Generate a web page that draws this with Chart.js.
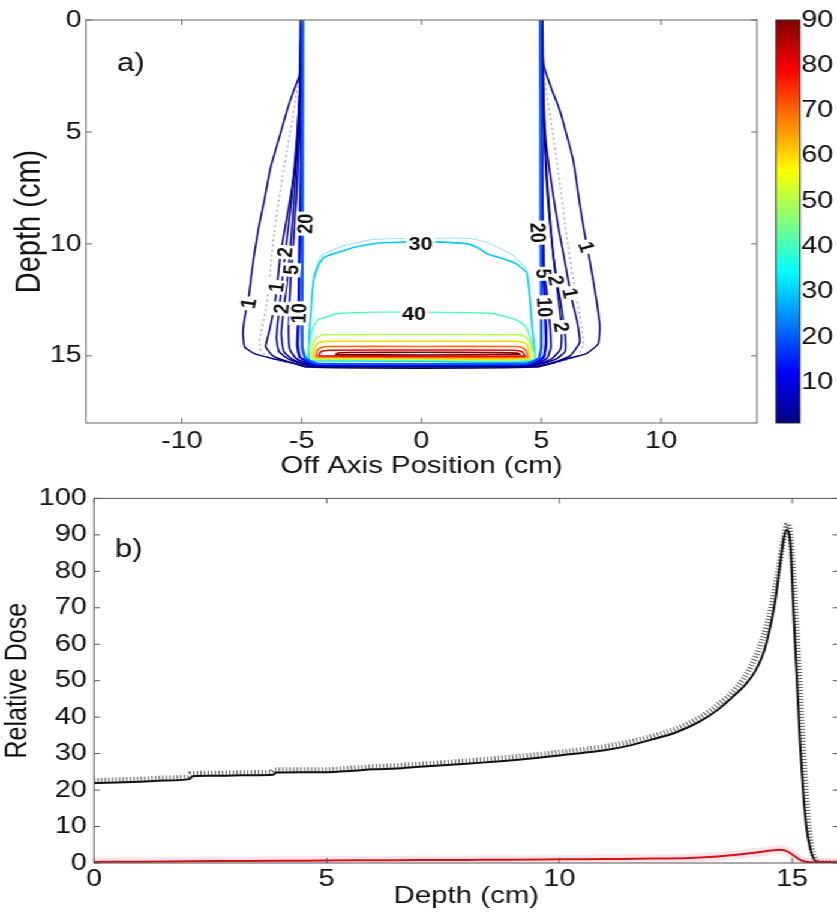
<!DOCTYPE html>
<html lang="en">
<head>
<meta charset="UTF-8" />
<title>Isodose contours and depth dose</title>
<style>
  html, body { margin: 0; padding: 0; background: #fff; overflow: hidden; }
  /* the source figure is stretched sideways, so the whole stage is too */
  #stage { position: relative; width: 705px; height: 916px; transform: scaleX(1.2); transform-origin: 0 0; }
  .box { position: absolute; }
  #boxA { left: 0; top: 0; width: 640px; height: 480px; }
  #boxC { left: 640px; top: 0; width: 60px; height: 480px; }
  #boxB { left: 0; top: 478px; width: 705px; height: 438px; }
</style>
</head>
<body>
<div id="stage">
  <div class="box" id="boxA"><canvas id="chartContour"></canvas></div>
  <div class="box" id="boxC"><canvas id="chartBar"></canvas></div>
  <div class="box" id="boxB"><canvas id="chartDepth"></canvas></div>
</div>

<script src="https://cdn.jsdelivr.net/npm/chart.js"></script>
<script>
// ---------- panel a: isodose lines, [off axis (cm), depth (cm)] ----------
const contour1a = [[-5.02,0],[-5.05,1.5],[-5.1,2.5],[-5.35,3.2],[-5.6,4.0],[-5.95,5.3],[-6.3,6.6],[-6.55,8.0],[-6.8,9.3],[-6.97,10.4],[-7.1,11.4],[-7.2,12.3],[-7.38,13.3],[-7.45,14.0],[-7.38,14.6],[-6.97,14.9],[-6.14,15.14],[-5.44,15.3],[-4.8,15.5],[0,15.55],[4.8,15.5],[5.36,15.36],[6.05,15.14],[6.88,14.9],[7.37,14.47],[7.44,13.7],[7.3,12.5],[7.02,10.74],[6.8,9.5],[6.6,8.2],[6.33,6.26],[5.77,4.03],[5.4,3.0],[5.08,1.94],[5.02,0]];
const contour1b = [[-5.05,0],[-5.08,3.0],[-5.15,4.5],[-5.23,6.1],[-5.45,7.8],[-5.73,9.5],[-5.9,10.6],[-6.0,11.6],[-6.1,12.5],[-6.25,13.4],[-6.4,14.1],[-6.5,14.6],[-6.2,15.0],[-5.5,15.28],[-4.75,15.47],[0,15.5],[4.75,15.47],[5.5,15.3],[6.2,15.0],[6.6,14.4],[6.5,13.5],[6.3,12.6],[6.15,11.8],[5.95,10.6],[5.7,9.2],[5.45,7.5],[5.2,5.5],[5.1,3.5],[5.05,0]];
const contour2a = [[-5.03,0],[-5.05,2.5],[-5.15,4.5],[-5.3,6.5],[-5.45,8.3],[-5.62,9.8],[-5.75,11.0],[-5.85,12.0],[-5.95,13.0],[-6.05,14.2],[-5.95,14.8],[-5.55,15.15],[-5.0,15.35],[-4.6,15.44],[0,15.47],[4.6,15.44],[5.1,15.33],[5.65,15.12],[6.0,14.8],[6.0,14.1],[5.9,13.3],[5.78,12.4],[5.64,11.6],[5.5,10.5],[5.35,9.0],[5.2,7.0],[5.1,4.5],[5.05,2.5],[5.03,0]];
const contour2b = [[-5.04,0],[-5.06,3.0],[-5.2,6.0],[-5.35,8.5],[-5.5,10.5],[-5.62,11.8],[-5.75,12.9],[-5.85,14.0],[-5.75,14.8],[-5.4,15.15],[-4.9,15.35],[-4.5,15.43],[0,15.45],[4.5,15.43],[4.95,15.33],[5.45,15.12],[5.8,14.7],[5.84,13.72],[5.75,12.8],[5.6,11.5],[5.45,10.0],[5.3,8.0],[5.15,5.5],[5.06,3.0],[5.04,0]];
const contour5 = [[-5.0,0],[-5.03,2],[-5.1,5],[-5.22,8],[-5.35,10],[-5.44,11.2],[-5.5,12.5],[-5.55,13.8],[-5.5,14.7],[-5.25,15.1],[-4.8,15.32],[-4.4,15.41],[0,15.43],[4.4,15.41],[4.85,15.32],[5.25,15.1],[5.4,14.6],[5.35,13.5],[5.25,12.3],[5.12,11.2],[5.06,9],[5.03,5],[5.0,0]];
const contour10 = [[-4.98,0],[-5.0,4],[-5.05,8],[-5.1,11],[-5.12,13.1],[-5.18,14.5],[-5.08,15.05],[-4.7,15.3],[-4.35,15.39],[0,15.4],[4.35,15.39],[4.75,15.3],[5.1,15.05],[5.2,14.4],[5.15,12.8],[5.08,11],[5.03,8],[5.0,4],[4.98,0]];
const contour20 = [[-4.95,0],[-4.96,5],[-4.97,10],[-4.98,14.6],[-4.85,15.1],[-4.5,15.3],[-4.2,15.36],[0,15.37],[4.2,15.36],[4.55,15.3],[4.9,15.1],[5.0,14.6],[4.98,10],[4.97,5],[4.96,0]];
const contour30 = [[-4.72,15.22],[-4.68,14.0],[-4.6,12.8],[-4.5,11.6],[-4.25,10.85],[-4.07,10.6],[-3.4,10.35],[-2.8,10.15],[-1.7,9.95],[-0.8,9.92],[0,9.9],[0.9,9.92],[1.9,10.0],[2.4,10.2],[2.73,10.44],[3.5,10.7],[3.97,10.9],[4.39,11.3],[4.53,12.5],[4.62,13.8],[4.68,15.22],[0,15.24],[-4.72,15.22]];
const contour30b = [[-4.6,12.5],[-4.45,11.2],[-4.2,10.55],[-3.3,10.1],[-2,9.8],[0,9.75],[2,9.75],[2.9,10.0],[3.8,10.5],[4.35,11.1],[4.5,12.3]];
const contour40 = [[-4.78,15.18],[-4.66,14.4],[-4.55,13.8],[-4.33,13.4],[-3.5,13.12],[-2,13.05],[0,13.05],[2,13.07],[3.0,13.12],[3.97,13.4],[4.35,13.7],[4.55,14.2],[4.7,15.18],[0,15.2],[-4.78,15.18]];
const contour50 = [[-4.62,15.14],[-4.55,14.5],[-4.4,14.2],[-4.1,14.06],[0,14.05],[4.1,14.06],[4.4,14.2],[4.55,14.5],[4.6,15.14],[0,15.16],[-4.62,15.14]];
const contour60 = [[-4.52,15.1],[-4.45,14.6],[-4.3,14.42],[-4.0,14.35],[0,14.35],[4.0,14.35],[4.3,14.42],[4.45,14.6],[4.5,15.1],[0,15.12],[-4.52,15.1]];
const contour70 = [[-4.42,15.05],[-4.35,14.75],[-4.15,14.62],[-3.9,14.58],[0,14.58],[3.9,14.58],[4.15,14.62],[4.35,14.75],[4.42,15.05],[0,15.07],[-4.42,15.05]];
const contour80 = [[-4.3,15.0],[-4.2,14.82],[-3.9,14.75],[0,14.74],[3.9,14.75],[4.2,14.82],[4.3,15.0],[0,15.02],[-4.3,15.0]];
const contour90 = [[-3.6,14.95],[-3.5,14.87],[-3.0,14.85],[0,14.84],[3.0,14.85],[4.0,14.87],[4.1,14.93],[0,14.96],[-3.6,14.95]];
const dottedEdge = [[-5.1,2.5],[-5.4,4.5],[-5.8,7.0],[-6.15,9.5],[-6.35,11.6],[-6.5,13.0],[-6.75,14.2],[-6.7,14.8],[-6.3,15.1],[-5.5,15.35],[0,15.5],[5.5,15.35],[6.5,15.0],[6.75,14.5],[6.65,13.5],[6.4,12.0],[6.1,10.0],[5.8,7.5],[5.4,4.5],[5.1,2.5]];

// contour labels
const labelText = ['1', '1', '2', '5', '2', '10', '20', '20', '5', '2', '1', '10', '2', '1', '30', '40'];
const labelX = [-7.22, -6.06, -5.7, -5.44, -5.85, -5.12, -4.85, 4.86, 5.1, 5.62, 6.2, 5.14, 5.84, 6.88, -0.04, -0.31];
const labelY = [12.66, 11.93, 10.37, 11.16, 12.9, 13.1, 9.1, 9.5, 11.33, 11.63, 12.2, 12.83, 13.72, 10.14, 10.0, 13.12];
const labelRot = [-80, -82, -85, -85, -85, -88, -88, 88, 88, 82, 78, 88, 82, 72, 0, 0];

// ---------- panel b: depth dose ----------
const depthCalc = [0,0.5,1,1.5,2.05,2.12,2.5,3,3.5,3.85,3.92,4.5,5,5.5,6,6.5,7,7.5,8,8.5,9,9.5,10,10.5,11,11.5,12,12.5,13,13.4,13.7,14,14.2,14.35,14.45,14.55,14.65,14.74,14.82,14.88,14.93,14.97,15.03,15.1,15.17,15.24,15.31,15.38,15.45,15.52,15.7,16];
const doseCalc = [21.9,22.1,22.3,22.6,23.0,23.8,23.9,24.0,24.1,24.2,24.8,24.9,24.9,25.2,25.7,25.9,26.4,26.8,27.2,27.7,28.2,28.8,29.5,30.2,31.0,32.2,33.9,35.8,38.7,42.0,45.3,49.0,52.5,56.5,60.5,66.0,73.0,82.0,89.0,91.3,90.5,86.0,69.0,51.0,33.0,19.0,9.5,4.5,1.5,0.4,0.2,0.2];
const depthMeas = [0,0.5,1,1.5,2.0,2.08,2.5,3,3.5,3.8,3.88,4.5,5,5.5,6,6.5,7,7.5,8,8.5,9,9.5,10,10.5,11,11.5,12,12.5,13,13.4,13.8,14.1,14.35,14.55,14.7,14.82,14.9,14.96,15.02,15.1,15.18,15.26,15.34,15.42,15.5,15.6,16];
const doseMeas = [22.6,22.8,23.0,23.3,23.7,24.5,24.6,24.7,24.8,24.9,25.5,25.6,25.6,26.0,26.4,26.7,27.1,27.5,28.0,28.5,29.1,29.7,30.4,31.1,32.0,33.2,34.8,36.8,39.8,43.3,48.0,53.5,61.0,70.0,80.0,89.0,93.0,90.0,80.0,63.0,44.0,26.0,12.0,4.0,1.0,0.3,0.2];
const depthLow = [0,1,2,3,4,5,6,7,8,9,10,11,12,12.8,13.4,13.9,14.3,14.55,14.72,14.85,14.95,15.05,15.15,15.25,15.4,16];
const doseLow = [0.3,0.35,0.5,0.55,0.6,0.7,0.75,0.8,0.85,0.9,1.0,1.1,1.2,1.4,1.8,2.4,3.0,3.4,3.6,3.4,2.8,1.9,1.0,0.5,0.2,0.2];

const FONT = "'Liberation Sans', Arial, Helvetica, sans-serif";
Chart.defaults.font.family = FONT;
Chart.defaults.color = '#111';

// matlab jet colormap over the colorbar range 1..90
function clamp(v) { return Math.max(0, Math.min(1, v)); }
function jet(level) {
  const t = clamp((level - 1) / 89);
  const r = clamp(Math.min(4 * t - 1.5, -4 * t + 4.5));
  const g = clamp(Math.min(4 * t - 0.5, -4 * t + 3.5));
  const b = clamp(Math.min(4 * t + 0.5, -4 * t + 2.5));
  return 'rgb(' + Math.round(r * 255) + ',' + Math.round(g * 255) + ',' + Math.round(b * 255) + ')';
}
const jetStops = [[0, '#000080'], [0.125, '#0000ff'], [0.375, '#00ffff'], [0.625, '#ffff00'], [0.875, '#ff0000'], [1, '#800000']];

function toPoints(pts) { return pts.map(p => ({ x: p[0], y: p[1] })); }
function zip(xs, ys) { return xs.map((x, i) => ({ x: x, y: ys[i] })); }

function lineSet(pts, color, width, dash) {
  return {
    data: toPoints(pts), borderColor: color, borderWidth: width, borderDash: dash || [],
    showLine: true, pointRadius: 0, tension: 0.15, fill: false
  };
}

const noGrid = { display: false, drawTicks: false };

// box round the plot area with short inward ticks, like the matlab axes
const frameTicks = {
  id: 'frameTicks',
  afterDatasetsDraw(chart, args, opts) {
    const { ctx, chartArea: a } = chart;
    ctx.save();
    ctx.strokeStyle = opts.color || '#555';
    ctx.lineWidth = 1;
    ctx.strokeRect(a.left, a.top, a.right - a.left, a.bottom - a.top);
    if (opts.ticks) {
      const len = 5;
      const sx = chart.scales.x, sy = chart.scales.y;
      ctx.beginPath();
      sx.ticks.forEach(t => {
        const px = sx.getPixelForValue(t.value);
        ctx.moveTo(px, a.bottom); ctx.lineTo(px, a.bottom - len);
        ctx.moveTo(px, a.top); ctx.lineTo(px, a.top + len);
      });
      sy.ticks.forEach(t => {
        const py = sy.getPixelForValue(t.value);
        ctx.moveTo(a.left, py); ctx.lineTo(a.left + len, py);
        ctx.moveTo(a.right, py); ctx.lineTo(a.right - len, py);
      });
      ctx.stroke();
    }
    ctx.restore();
  }
};

// contour labels and the panel letters
const textMarks = {
  id: 'textMarks',
  afterDatasetsDraw(chart, args, opts) {
    const { ctx } = chart;
    const sx = chart.scales.x, sy = chart.scales.y;
    ctx.save();
    (opts.items || []).forEach(it => {
      const px = sx.getPixelForValue(it.x), py = sy.getPixelForValue(it.y);
      ctx.save();
      ctx.translate(px, py);
      ctx.rotate((it.rot || 0) * Math.PI / 180);
      ctx.font = it.font;
      ctx.textAlign = it.align || 'center';
      ctx.textBaseline = it.baseline || 'middle';
      if (it.box) {
        const w = ctx.measureText(it.text).width;
        ctx.fillStyle = '#fff';
        ctx.fillRect(-w / 2 - 2, -8, w + 4, 16);
      }
      ctx.fillStyle = '#111';
      ctx.fillText(it.text, 0, it.box ? 1 : 0);
      ctx.restore();
    });
    ctx.restore();
  }
};

// ---------- panel a ----------
const contourDatasets = [
  lineSet(contour20, jet(20), 2.4),
  lineSet(contour10, jet(10), 2.4),
  lineSet(contour5, jet(5), 1.6),
  lineSet(contour2a, jet(2), 1.5),
  lineSet(contour2b, jet(2), 1.5),
  lineSet(contour1b, jet(1), 1.5),
  lineSet(contour1a, jet(1), 1.5),
  lineSet(dottedEdge, '#9a9ad0', 1.2, [2, 3]),
  lineSet(contour90, jet(90), 1.6),
  lineSet(contour80, jet(80), 1.6),
  lineSet(contour70, jet(70), 1.6),
  lineSet(contour60, jet(60), 1.6),
  lineSet(contour50, jet(50), 1.6),
  lineSet(contour40, jet(40), 1.4),
  lineSet(contour30, jet(30), 1.6),
  lineSet(contour30b, '#9fe6f2', 1.1)
];

const contourLabels = labelText.map((t, i) => ({
  text: t, x: labelX[i], y: labelY[i], rot: labelRot[i], box: true,
  font: 'bold 18px ' + FONT
}));
contourLabels.push({ text: 'a)', x: -12.71, y: 2.28, align: 'left', baseline: 'alphabetic', font: '26px ' + FONT });

new Chart(document.getElementById('chartContour'), {
  type: 'scatter',
  data: { datasets: contourDatasets },
  options: {
    responsive: true,
    maintainAspectRatio: false,
    animation: false,
    layout: { padding: { left: 0, top: 20, right: 9.17, bottom: 0 } },
    plugins: {
      legend: { display: false },
      tooltip: { enabled: false },
      frameTicks: { ticks: true, color: '#666' },
      textMarks: { items: contourLabels }
    },
    scales: {
      x: {
        type: 'linear', min: -14, max: 14,
        grid: noGrid, border: { display: false },
        ticks: { stepSize: 5, includeBounds: false, padding: 4, maxRotation: 0, font: { size: 24 } },
        title: { display: true, text: 'Off Axis Position (cm)', font: { size: 24.5, lineHeight: 1 }, padding: { top: 0, bottom: 2 } },
        afterFit: s => { s.height = 57; }
      },
      y: {
        type: 'linear', min: 0, max: 18, reverse: true,
        grid: noGrid, border: { display: false },
        ticks: { stepSize: 5, includeBounds: false, padding: 3.5, font: { size: 24 } },
        title: { display: true, text: 'Depth (cm)', font: { size: 29, lineHeight: 1 }, padding: { top: 10, bottom: 0 } },
        afterFit: s => { s.width = 71.67; }
      }
    }
  },
  plugins: [frameTicks, textMarks]
});

// ---------- colour bar ----------
function jetGradient(chart) {
  const a = chart.chartArea;
  if (!a) return '#0000ff';
  const y = chart.scales.y;
  const g = chart.ctx.createLinearGradient(0, y.getPixelForValue(1), 0, y.getPixelForValue(90));
  jetStops.forEach(s => g.addColorStop(s[0], s[1]));
  return g;
}

new Chart(document.getElementById('chartBar'), {
  type: 'bar',
  data: {
    labels: [''],
    datasets: [{
      data: [[1, 90]],
      backgroundColor: ctx => jetGradient(ctx.chart),
      borderWidth: 0, barPercentage: 1, categoryPercentage: 1
    }]
  },
  options: {
    responsive: true,
    maintainAspectRatio: false,
    animation: false,
    layout: { padding: { left: 6.67, top: 20, right: 0, bottom: 57 } },
    plugins: { legend: { display: false }, tooltip: { enabled: false }, frameTicks: { ticks: false, color: '#333' } },
    scales: {
      x: { display: false },
      y: {
        position: 'right', min: 1, max: 90,
        grid: noGrid, border: { display: false },
        ticks: { stepSize: 10, includeBounds: false, padding: 1, font: { size: 24 } },
        afterBuildTicks: s => { s.ticks = s.ticks.filter(t => t.value >= 10 && t.value % 10 === 0); },
        afterFit: s => { s.width = 33.33; }
      }
    }
  },
  plugins: [frameTicks]
});

// ---------- panel b ----------
new Chart(document.getElementById('chartDepth'), {
  type: 'scatter',
  data: {
    datasets: [
      { data: zip(depthLow, doseLow), borderColor: '#d41414', borderWidth: 2, showLine: true, pointRadius: 0, cubicInterpolationMode: 'monotone' },
      { data: zip(depthLow, doseLow), borderColor: 'rgba(255,110,140,0.18)', borderWidth: 9, showLine: true, pointRadius: 0, cubicInterpolationMode: 'monotone' },
      { data: zip(depthCalc, doseCalc), borderColor: '#111', borderWidth: 2, showLine: true, pointRadius: 0, cubicInterpolationMode: 'monotone' },
      { data: zip(depthMeas, doseMeas), borderColor: 'rgba(50,50,50,0.8)', borderWidth: 5, borderDash: [1, 2], showLine: true, pointRadius: 0, cubicInterpolationMode: 'monotone' }
    ]
  },
  options: {
    responsive: true,
    maintainAspectRatio: false,
    animation: false,
    layout: { padding: { left: 0, top: 20, right: 6.1, bottom: 0 } },
    plugins: {
      legend: { display: false },
      tooltip: { enabled: false },
      frameTicks: { ticks: true, color: '#555' },
      textMarks: { items: [{ text: 'b)', x: 0.45, y: 83.9, align: 'left', baseline: 'alphabetic', font: '26px ' + FONT }] }
    },
    scales: {
      x: {
        type: 'linear', min: 0, max: 16,
        grid: noGrid, border: { display: false },
        ticks: { stepSize: 5, includeBounds: false, padding: 2, maxRotation: 0, font: { size: 24 } },
        title: { display: true, text: 'Depth (cm)', font: { size: 24.5, lineHeight: 1 }, padding: { top: 0, bottom: 7.5 } },
        afterFit: s => { s.height = 53; }
      },
      y: {
        type: 'linear', min: 0, max: 100,
        grid: noGrid, border: { display: false },
        ticks: { stepSize: 10, includeBounds: false, padding: 6, font: { size: 24 } },
        title: { display: true, text: 'Relative Dose', font: { size: 25, lineHeight: 1 }, padding: { top: 3, bottom: 0 } },
        afterFit: s => { s.width = 78.33; }
      }
    }
  },
  plugins: [frameTicks, textMarks]
});
</script>
</body>
</html>
